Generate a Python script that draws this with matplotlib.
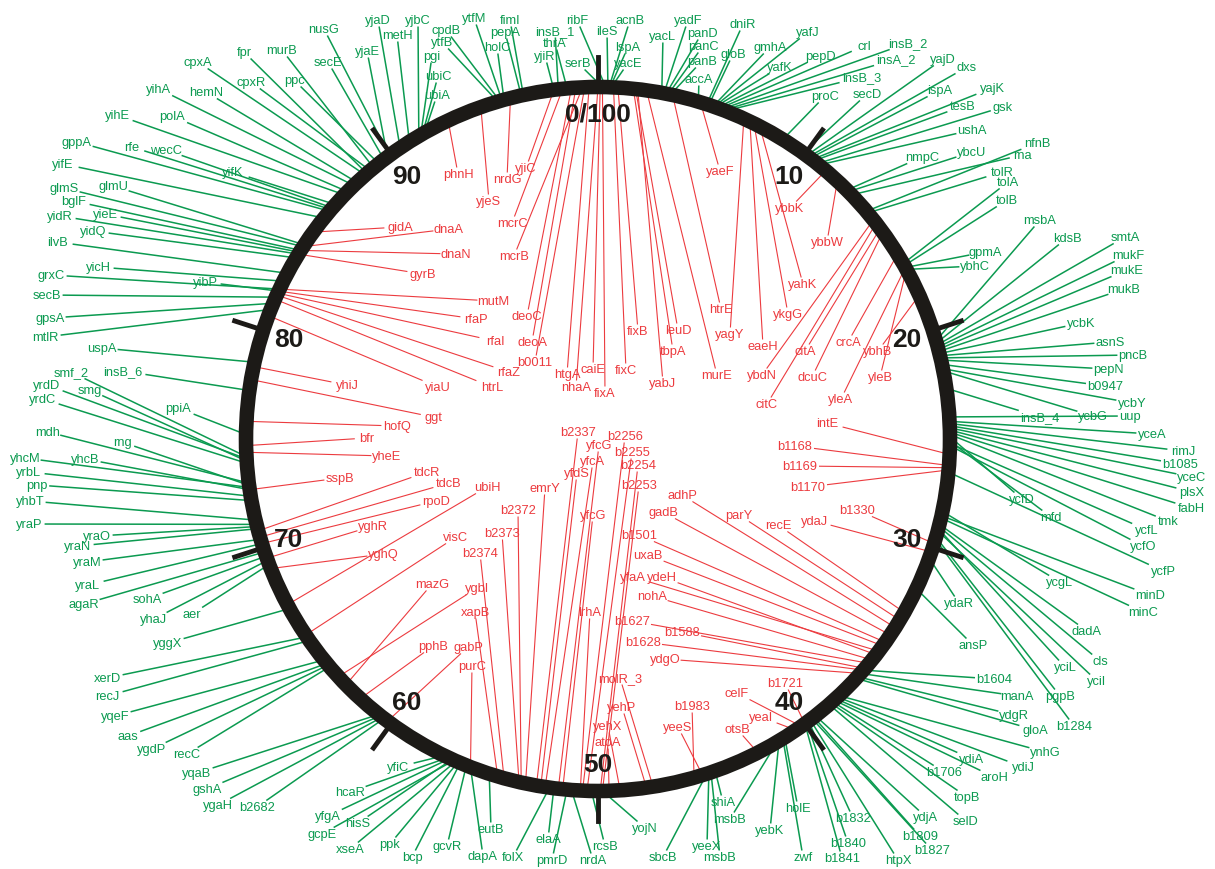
import numpy as np
import matplotlib
matplotlib.use("Agg")
from matplotlib import pyplot as plt
from matplotlib.patches import Circle

plt.rcParams['font.family'] = ['Liberation Sans', 'DejaVu Sans']

# genes outside the map (green): name, map position (min), label x, label y
outer_top = [
    ("nusG", 89.9, 324, 30), ("yjaE", 89.8, 367, 52), ("secE", 89.6, 328, 63),
    ("ppc", 89.3, 294, 81), ("murB", 89.0, 282, 51), ("cpxR", 88.8, 251, 83),
    ("fpr", 88.6, 244, 53), ("cpxA", 88.5, 198, 63), ("hemN", 88.0, 206, 93),
    ("yihA", 87.8, 159, 90), ("polA", 87.4, 172, 117), ("yihE", 87.2, 117, 116),
    ("yjaD", 90.5, 378, 21), ("metH", 91.0, 397, 36), ("yjbC", 91.5, 418, 21),
    ("pgi", 91.6, 432, 57), ("ubiC", 91.7, 438, 77), ("ubiA", 91.8, 437, 96),
    ("ytfB", 95.4, 442, 43), ("cpdB", 95.5, 446, 31), ("ytfM", 95.6, 474, 19),
    ("holC", 95.7, 497, 48), ("pepA", 96.5, 505, 33), ("fimI", 96.6, 510, 21),
    ("yjiR", 98.0, 545, 57), ("insB_1", 98.2, 555, 32), ("thrA", 98.6, 555, 44),
    ("serB", 0.2, 578, 64), ("ribF", 0.35, 577, 21), ("ileS", 0.45, 607, 32),
    ("acnB", 0.5, 630, 21), ("lspA", 0.55, 628, 48), ("yacE", 0.6, 628, 64),
    ("yacL", 2.9, 663, 37), ("yadF", 3.0, 688, 21), ("panD", 3.1, 702, 34),
    ("panC", 3.2, 703, 47), ("panB", 3.3, 702, 62), ("accA", 4.6, 699, 80),
    ("dniR", 5.0, 743, 25), ("gloB", 5.1, 733, 55), ("gmhA", 5.3, 770, 48),
    ("yafJ", 5.35, 808, 33), ("yafK", 5.4, 780, 68), ("pepD", 5.5, 820, 57),
    ("crl", 5.6, 864, 47), ("insB_2", 5.7, 908, 44), ("insA_2", 5.8, 896, 60),
    ("insB_3", 5.9, 862, 78), ("proC", 8.8, 825, 97), ("secD", 9.9, 867, 95),
    ("yajD", 10.1, 943, 60), ("dxs", 10.2, 967, 68), ("ispA", 10.3, 940, 91),
    ("yajK", 10.4, 992, 89), ("tesB", 10.5, 963, 107), ("gsk", 10.7, 1003, 108),
    ("ushA", 10.8, 972, 131),
]

outer_right = [
    ("nmpC", 12.5, 922, 158), ("ybcU", 12.6, 972, 153), ("rna", 12.8, 1022, 156),
    ("nfnB", 13.8, 1037, 144), ("tolR", 13.9, 1002, 173), ("tolA", 16.7, 1008, 183),
    ("tolB", 16.8, 1007, 201), ("gpmA", 16.9, 985, 253), ("ybhC", 17.0, 975, 267),
    ("msbA", 20.5, 1040, 221), ("kdsB", 20.6, 1067, 239), ("smtA", 20.7, 1125, 238),
    ("mukF", 20.8, 1128, 256), ("mukE", 20.9, 1127, 271), ("mukB", 21.0, 1124, 290),
    ("ycbK", 21.1, 1081, 324), ("asnS", 21.2, 1110, 343), ("pncB", 21.3, 1133, 356),
    ("pepN", 21.4, 1108, 370), ("b0947", 21.6, 1105, 387), ("ycbY", 21.8, 1132, 404),
    ("ycbG", 21.9, 1093, 417), ("insB_4", 22.7, 1040, 418), ("uup", 24.0, 1130, 417),
    ("yceA", 24.2, 1152, 435), ("rimJ", 24.3, 1183, 452), ("b1085", 24.4, 1180, 465),
    ("yceC", 24.5, 1192, 478), ("plsX", 24.6, 1192, 493), ("fabH", 24.7, 1191, 509),
    ("tmk", 24.8, 1168, 522), ("ycfD", 24.9, 1022, 500), ("mfd", 25.1, 1051, 518),
    ("ycfL", 25.2, 1147, 531), ("ycfO", 25.3, 1143, 547), ("ycfP", 26.5, 1163, 572),
    ("ycgL", 28.3, 1060, 583), ("minD", 28.5, 1150, 596), ("minC", 28.6, 1143, 613),
    ("dadA", 28.9, 1087, 632), ("cls", 29.0, 1100, 662), ("yciL", 29.1, 1065, 668),
    ("yciI", 29.2, 1097, 682), ("pgpB", 29.5, 1060, 697), ("b1284", 29.6, 1074, 727),
    ("ydaR", 30.5, 959, 604), ("ansP", 32.0, 973, 646),
]

outer_bottom = [
    ("b1604", 36.4, 994, 680), ("manA", 36.6, 1017, 697), ("ydgR", 36.8, 1014, 716),
    ("gloA", 36.9, 1035, 731), ("ynhG", 38.0, 1045, 753), ("ydiJ", 38.1, 1023, 768),
    ("ydiA", 38.2, 972, 760), ("aroH", 38.3, 994, 778), ("b1706", 38.4, 944, 773),
    ("topB", 38.5, 967, 798), ("selD", 38.6, 966, 822), ("ydjA", 39.4, 926, 818),
    ("b1809", 39.5, 920, 837), ("b1827", 39.6, 932, 851), ("htpX", 39.7, 898, 861),
    ("b1832", 39.8, 853, 819), ("b1840", 39.9, 848, 844), ("b1841", 40.0, 842, 859),
    ("holE", 41.1, 798, 809), ("zwf", 41.2, 803, 858), ("yebK", 41.4, 770, 831),
    ("msbB", 41.5, 730, 820), ("shiA", 44.6, 723, 803), ("msbB", 44.8, 720, 858),
    ("yeeX", 44.9, 707, 847), ("sbcB", 45.0, 663, 858), ("yojN", 49.8, 645, 829),
    ("rcsB", 50.3, 605, 847), ("nrdA", 51.2, 593, 861), ("pmrD", 51.4, 552, 861),
    ("elaA", 52.0, 548, 840), ("folX", 52.2, 513, 858), ("eutB", 55.0, 491, 830),
    ("dapA", 55.9, 483, 857), ("gcvR", 56.1, 447, 847), ("bcp", 56.4, 412, 858),
    ("ppk", 56.5, 390, 845), ("xseA", 56.6, 350, 850), ("gcpE", 56.7, 322, 835),
    ("hisS", 56.8, 358, 824), ("yfgA", 56.9, 328, 817), ("hcaR", 57.0, 350, 793),
    ("yfiC", 57.2, 398, 768),
]

outer_left = [
    ("b2682", 60.4, 257, 808), ("ygaH", 60.5, 218, 806), ("gshA", 60.6, 207, 790),
    ("yqaB", 60.7, 197, 774), ("recC", 63.8, 187, 755), ("ygdP", 63.9, 152, 750),
    ("aas", 64.0, 128, 737), ("yqeF", 64.2, 115, 717), ("recJ", 65.3, 107, 697),
    ("xerD", 65.5, 107, 679), ("yggX", 67.0, 168, 644), ("aer", 69.2, 192, 615),
    ("yhaJ", 69.4, 154, 620), ("sohA", 69.6, 147, 600), ("agaR", 69.8, 84, 605),
    ("yraL", 70.2, 88, 586), ("yraM", 70.4, 87, 563), ("yraN", 70.9, 78, 547),
    ("yraO", 71.0, 97, 537), ("yraP", 71.1, 29, 525), ("yhbT", 71.3, 30, 502),
    ("pnp", 72.2, 37, 486), ("yrbL", 72.4, 29, 473), ("yhcB", 72.7, 85, 460),
    ("yhcM", 72.8, 25, 459), ("rng", 72.9, 122, 443), ("mdh", 73.0, 48, 433),
    ("yrdC", 73.9, 43, 400), ("smg", 74.0, 90, 391), ("yrdD", 74.1, 47, 386),
    ("smf_2", 74.2, 71, 373), ("ppiA", 75.2, 178, 409), ("insB_6", 77.2, 123, 372),
    ("uspA", 78.5, 102, 349), ("mtlR", 81.0, 45, 338), ("gpsA", 81.3, 50, 319),
    ("secB", 81.6, 47, 296), ("yibP", 81.9, 205, 283), ("grxC", 82.0, 51, 276),
    ("yicH", 82.4, 98, 268), ("ilvB", 82.8, 57, 243), ("yidQ", 83.6, 93, 232),
    ("yidR", 83.8, 60, 217), ("yieE", 83.9, 105, 215), ("bglF", 84.0, 74, 202),
    ("glmS", 84.2, 64, 189), ("glmU", 84.3, 113, 187), ("yifE", 85.8, 63, 165),
    ("gppA", 86.2, 77, 143), ("rfe", 86.3, 132, 148), ("wecC", 86.4, 166, 151),
    ("yifK", 86.6, 233, 173),
]

# genes inside the map (red)
inner_top = [
    ("phnH", 93.0, 458, 175), ("yjeS", 94.6, 489, 202), ("nrdG", 96.0, 507, 180),
    ("yjiC", 98.0, 526, 169), ("mcrC", 98.4, 512, 224), ("mcrB", 99.3, 514, 257),
    ("deoC", 98.8, 527, 317), ("deoA", 99.0, 532, 343), ("b0011", 99.4, 535, 363),
    ("htgA", 99.6, 567, 375), ("nhaA", 0.0, 576, 388), ("caiE", 0.1, 593, 370),
    ("fixA", 0.2, 605, 394), ("fixC", 0.7, 626, 371), ("fixB", 0.9, 638, 332),
    ("tbpA", 1.6, 673, 352), ("leuD", 1.7, 678, 331), ("yabJ", 1.8, 663, 384),
    ("murE", 2.2, 717, 376), ("htrE", 3.4, 721, 310), ("yaeF", 4.7, 720, 172),
    ("yagY", 6.8, 730, 335), ("eaeH", 7.1, 763, 347), ("ykgG", 7.3, 788, 315),
    ("yahK", 7.6, 803, 285), ("ybbK", 11.2, 790, 209), ("ybbW", 11.9, 827, 243),
    ("ybdN", 14.3, 762, 376), ("citC", 14.5, 767, 405), ("citA", 14.8, 805, 352),
    ("dcuC", 15.0, 812, 378), ("crcA", 16.2, 848, 343), ("yleA", 16.9, 841, 400),
    ("yleB", 17.0, 880, 378), ("ybhB", 18.3, 878, 352),
]

inner_right = [
    ("intE", 25.7, 827, 424), ("b1168", 26.2, 795, 447), ("b1169", 26.3, 800, 467),
    ("b1170", 26.4, 808, 488), ("b1330", 29.8, 857, 511), ("ydaJ", 30.2, 815, 522),
    ("recE", 33.2, 778, 526), ("parY", 33.6, 739, 516), ("adhP", 34.0, 682, 496),
    ("gadB", 34.4, 663, 513), ("b1501", 34.8, 639, 536), ("uxaB", 35.0, 648, 556),
    ("yfaA", 35.3, 633, 578), ("ydeH", 35.5, 662, 578), ("nohA", 35.8, 652, 597),
    ("b1627", 36.0, 632, 622), ("b1588", 36.3, 682, 633), ("b1628", 36.4, 643, 643),
    ("ydgO", 36.6, 665, 660), ("b1721", 40.0, 785, 684), ("celF", 40.2, 737, 694),
    ("yeaI", 40.5, 761, 718), ("otsB", 42.5, 737, 730), ("b1983", 45.6, 692, 707),
    ("yeeS", 45.2, 678, 728), ("yehP", 47.8, 622, 708), ("molR_3", 47.5, 620, 679),
    ("yehX", 49.0, 608, 727), ("atoA", 49.5, 608, 743),
]

inner_bottom = [
    ("b2253", 49.8, 639, 486), ("b2254", 49.9, 638, 466), ("b2255", 50.5, 632, 453),
    ("b2256", 50.7, 625, 437), ("lrhA", 50.8, 590, 613), ("yfcG", 51.6, 593, 516),
    ("yfcG", 51.8, 599, 446), ("yfcA", 52.4, 593, 462), ("yfdS", 52.6, 577, 474),
    ("b2337", 52.8, 578, 433), ("emrY", 53.3, 545, 489), ("b2372", 53.5, 518, 511),
    ("b2373", 53.6, 502, 534), ("b2374", 54.3, 480, 554), ("xapB", 54.6, 475, 613),
    ("purC", 55.9, 472, 667), ("gabP", 60.2, 468, 648), ("pphB", 61.8, 433, 647),
    ("mazG", 62.7, 432, 585), ("ygbI", 63.2, 477, 589), ("visC", 65.6, 456, 538),
    ("ubiH", 67.2, 487, 488),
]

inner_left = [
    ("yghQ", 69.0, 383, 555), ("yghR", 69.5, 373, 527), ("rpoD", 70.2, 436, 502),
    ("tdcB", 70.5, 449, 484), ("tdcR", 70.8, 427, 473), ("sspB", 72.7, 340, 479),
    ("yheE", 74.4, 387, 457), ("bfr", 74.7, 367, 439), ("hofQ", 75.8, 397, 427),
    ("ggt", 77.7, 433, 418), ("yhiJ", 78.3, 347, 386), ("yiaU", 80.7, 438, 388),
    ("htrL", 81.5, 492, 388), ("rfaZ", 81.7, 509, 373), ("rfaI", 81.8, 495, 342),
    ("rfaP", 81.9, 476, 320), ("mutM", 82.0, 493, 302), ("gyrB", 83.8, 423, 275),
    ("dnaN", 84.0, 456, 255), ("dnaA", 84.2, 449, 230), ("gidA", 85.0, 400, 228),
]

map_ticks = [0, 10, 20, 30, 40, 50, 60, 70, 80, 90]
tick_labels = ["0/100", "10", "20", "30", "40", "50", "60", "70", "80", "90"]

cx, cy, R = 598, 440, 352
green = "#0b9a50"
red = "#ec3b3f"


def on_map(m, r):
    a = 2 * np.pi * m / 100.0
    return cx + r * np.sin(a), cy - r * np.cos(a)


fig = plt.figure(figsize=(12.15, 8.7), dpi=100)
ax = fig.add_axes([0, 0, 1, 1])
ax.set_xlim(0, 1215)
ax.set_ylim(870, 0)
ax.axis("off")


def draw_genes(genes, color, lw):
    for name, m, tx, ty in genes:
        px, py = on_map(m, R)
        dx, dy = tx - px, ty - py
        # stop the line at the edge of the label box
        hw = 3.4 * len(name) + 2
        hh = 6.5
        s = 1.0
        if abs(dx) > 1e-6:
            s = min(s, hw / abs(dx))
        if abs(dy) > 1e-6:
            s = min(s, hh / abs(dy))
        s = 1.0 - s
        if s > 0:
            ax.plot([px, px + s * dx], [py, py + s * dy], color=color, lw=lw,
                    solid_capstyle="butt", zorder=1)
        ax.text(tx, ty, name, color=color, fontsize=9.3, ha="center",
                va="center", zorder=3)


for grp in [outer_top, outer_right, outer_bottom, outer_left]:
    draw_genes(grp, green, 1.1)
for grp in [inner_top, inner_right, inner_bottom, inner_left]:
    draw_genes(grp, red, 0.8)

ax.add_patch(Circle((cx, cy), R, fill=False, lw=10.5, color="#1c1a17", zorder=2))

for m, lab in zip(map_ticks, tick_labels):
    x0, y0 = on_map(m, R)
    x1, y1 = on_map(m, R + 30)
    ax.plot([x0, x1], [y0, y1], color="#1c1a17", lw=3.5, zorder=2)
    lx, ly = on_map(m, R - 27)
    ax.text(lx, ly, lab, fontsize=19, fontweight="bold", color="#1c1a17",
            ha="center", va="center", zorder=4)

fig.savefig("out.png", dpi=100)
